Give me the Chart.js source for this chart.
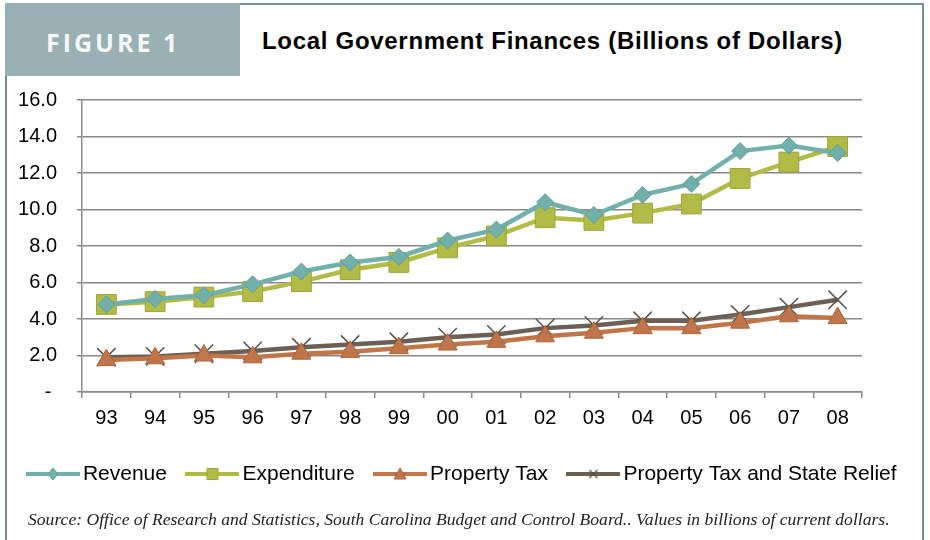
<!DOCTYPE html>
<html>
<head>
<meta charset="utf-8">
<script src="https://cdn.jsdelivr.net/npm/chart.js@4.4.1/dist/chart.umd.min.js"></script>
<style>
  html, body { margin: 0; padding: 0; background: #fff; }
  #wrap { position: relative; width: 930px; height: 540px; overflow: hidden; }
  #frame { position: absolute; left: 5px; top: 3px; width: 919px; height: 560px;
           border: 2px solid #6f9094; box-sizing: border-box; }
  #figbox { position: absolute; left: 5px; top: 3px; width: 235px; height: 73px; background: #99b1b4; }
  #figbox span { position: absolute; left: 41px; top: 22px;
                 font: bold 25px "Open Sans", sans-serif; letter-spacing: 3px; color: #f6f8f8; }
  #title { position: absolute; left: 262px; top: 27px; font: bold 24px "Liberation Sans", Arial, sans-serif;
           letter-spacing: 0.7px; color: #000; }
  #source { position: absolute; left: 28px; top: 509px; font: italic 17.6px "Liberation Serif", serif; color: #222; }
  canvas { position: absolute; left: 0; top: 0; }
</style>
</head>
<body>
<div id="wrap">
  <div id="frame"></div>
  <div id="figbox"><span>FIGURE 1</span></div>
  <div id="title">Local Government Finances (Billions of Dollars)</div>
  <canvas id="grafico" width="930" height="540"></canvas>
  <div id="source">Source: Office of Research and Statistics, South Carolina Budget and Control Board.. Values in billions of current dollars.</div>
</div>
<script>
// ================= DADOS =================
const anos = ['93', '94', '95', '96', '97', '98', '99', '00', '01', '02', '03', '04', '05', '06', '07', '08'];
const receita = [4.8, 5.1, 5.3, 5.9, 6.6, 7.1, 7.4, 8.3, 8.9, 10.4, 9.7, 10.8, 11.4, 13.2, 13.5, 13.1];
const despesa = [4.8, 4.95, 5.2, 5.5, 6.05, 6.7, 7.1, 7.9, 8.55, 9.55, 9.4, 9.8, 10.3, 11.7, 12.6, 13.45];
const impostoPropriedade = [1.75, 1.85, 2.0, 1.9, 2.1, 2.2, 2.4, 2.6, 2.75, 3.05, 3.25, 3.5, 3.5, 3.8, 4.15, 4.05];
const impostoMaisAlivio = [1.9, 1.95, 2.1, 2.25, 2.45, 2.6, 2.75, 3.0, 3.15, 3.5, 3.65, 3.9, 3.9, 4.25, 4.65, 5.05];
const eixoYMax = 16;
const eixoYPasso = 2;

// ícone da legenda: linha com marcador no meio
function iconeLegenda(cor, borda, forma) {
  const c = document.createElement('canvas');
  c.width = 54; c.height = 16;
  const g = c.getContext('2d');
  g.strokeStyle = cor; g.lineWidth = 4;
  g.beginPath(); g.moveTo(0, 8); g.lineTo(54, 8); g.stroke();
  g.fillStyle = cor; g.strokeStyle = borda; g.lineWidth = 1;
  g.beginPath();
  if (forma === 'diamond') {
    g.moveTo(27, 2); g.lineTo(32, 8); g.lineTo(27, 14); g.lineTo(22, 8); g.closePath(); g.fill(); g.stroke();
  } else if (forma === 'square') {
    g.rect(21.5, 2.5, 11, 11); g.fill(); g.stroke();
  } else if (forma === 'triangle') {
    g.moveTo(27, 2); g.lineTo(33, 13); g.lineTo(21, 13); g.closePath(); g.fill(); g.stroke();
  } else {
    g.lineWidth = 1.3;
    g.moveTo(23, 4); g.lineTo(31, 12); g.moveTo(31, 4); g.lineTo(23, 12); g.stroke();
  }
  return c;
}

const series = [
  { label: 'Revenue', data: receita, cor: '#72b0ac', borda: '#5f9d99', forma: 'rectRot', icone: 'diamond', raio: 8.5 },
  { label: 'Expenditure', data: despesa, cor: '#b3bb47', borda: '#9ca43a', forma: 'rect', icone: 'square', raio: 14 },
  { label: 'Property Tax', data: impostoPropriedade, cor: '#c17649', borda: '#a9643c', forma: 'triangle', icone: 'triangle', raio: 11 },
  { label: 'Property Tax and State Relief', data: impostoMaisAlivio, cor: '#6c5f53', borda: '#5c5046', forma: 'crossRot', icone: 'x', raio: 13 }
];

const icones = series.map(s => iconeLegenda(s.cor, s.borda, s.icone));
const fonte = '"Liberation Sans", Arial, sans-serif';

new Chart(document.getElementById('grafico'), {
  type: 'line',
  data: {
    labels: anos,
    datasets: series.map(s => ({
      label: s.label,
      data: s.data,
      yAxisID: 'y',
      borderColor: s.cor,
      backgroundColor: s.cor,
      borderWidth: 4.5,
      pointStyle: s.forma,
      pointRadius: s.raio,
      pointBackgroundColor: s.cor,
      pointBorderColor: s.borda,
      pointBorderWidth: s.forma === 'crossRot' ? 1.5 : 1,
      tension: 0
    }))
  },
  options: {
    responsive: false,
    animation: false,
    layout: { padding: { left: 0, right: 0, top: 100, bottom: 45.5 } },
    plugins: {
      tooltip: { enabled: false },
      legend: {
        position: 'bottom',
        labels: {
          usePointStyle: true,
          pointStyleWidth: 39,
          padding: 26,
          color: '#000',
          font: { family: fonte, size: 21 },
          generateLabels: chart => chart.data.datasets.map((ds, i) => ({
            text: ds.label,
            pointStyle: icones[i],
            fillStyle: ds.borderColor,
            strokeStyle: ds.borderColor,
            lineWidth: 0,
            datasetIndex: i,
            hidden: false
          }))
        }
      }
    },
    scales: {
      x: {
        offset: true,
        afterFit: s => { s.height = 45.5; },
        grid: { offset: true, drawOnChartArea: false, drawTicks: true, tickLength: 6, color: '#888', lineWidth: 1.5 },
        border: { color: '#888', width: 1.5 },
        ticks: { color: '#000', padding: 8, font: { family: fonte, size: 20 } }
      },
      y: {
        position: 'left',
        min: 0,
        max: eixoYMax,
        afterFit: s => { s.width = 82; },
        grid: { color: '#888', lineWidth: 1.5, tickLength: 5 },
        border: { color: '#888', width: 1.5 },
        ticks: {
          stepSize: eixoYPasso,
          color: '#000',
          padding: 20,
          font: { family: fonte, size: 20 },
          callback: v => v === 0 ? '- ' : v.toFixed(1)
        }
      },
      // eixo vazio à direita só para reservar a margem
      margemDireita: {
        position: 'right',
        min: 0,
        max: eixoYMax,
        afterFit: s => { s.width = 68; },
        grid: { drawOnChartArea: false, drawTicks: false },
        border: { display: false },
        ticks: { display: false }
      }
    }
  }
});
</script>
</body>
</html>
